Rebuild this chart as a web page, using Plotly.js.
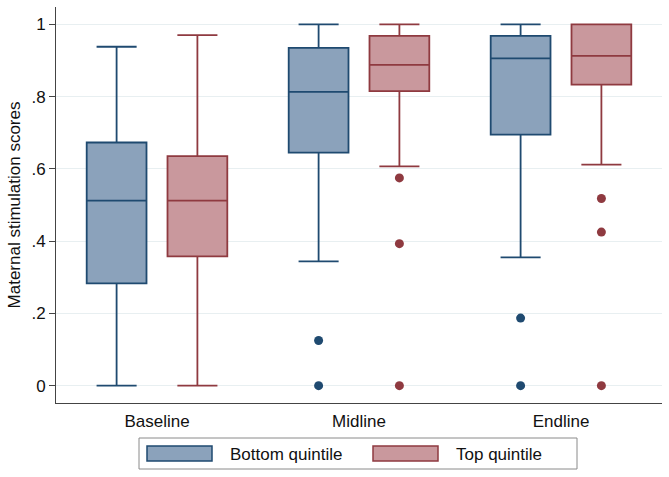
<!DOCTYPE html>
<html><head><meta charset="utf-8">
<script src="https://cdn.plot.ly/plotly-3.0.1.min.js"></script>
<style>html,body{margin:0;padding:0;background:#fff}</style>
</head><body><div id="chart" style="width:669px;height:477px"></div>
<script>
const categories = ['Baseline', 'Midline', 'Endline'];
const seriesNames = ['Bottom quintile', 'Top quintile'];

const bottomQ1 = [0.283, 0.645, 0.695];
const bottomMedian = [0.512, 0.813, 0.906];
const bottomQ3 = [0.673, 0.935, 0.968];
const bottomLower = [0.0, 0.344, 0.355];
const bottomUpper = [0.938, 1.0, 1.0];
const bottomOutliers = [[], [0.125, 0.0], [0.187, 0.0]];

const topQ1 = [0.358, 0.815, 0.833];
const topMedian = [0.512, 0.888, 0.913];
const topQ3 = [0.635, 0.968, 1.0];
const topLower = [0.0, 0.607, 0.612];
const topUpper = [0.97, 1.0, 1.0];
const topOutliers = [[], [0.575, 0.393, 0.0], [0.518, 0.425, 0.0]];

const yTickVals = [0, 0.2, 0.4, 0.6, 0.8, 1];
const yTickText = ['0', '.2', '.4', '.6', '.8', '1'];

const blueFill = '#8ba2bb', blueLine = '#1f4a70';
const redFill = '#c9989d', redLine = '#8f3a40';
const FONT = 'Liberation Sans, Arial, sans-serif';
const BOXGAP = 0.2, BOXGROUPGAP = 0.26;

function boxTrace(name, q1, med, q3, lo, up, fill, line) {
  return {
    type: 'box', name: name, x: categories,
    q1: q1, median: med, q3: q3, lowerfence: lo, upperfence: up,
    boxpoints: false,
    fillcolor: fill, line: {color: line, width: 1.8},
    whiskerwidth: 0.67,
    hoverinfo: 'skip', showlegend: false
  };
}

// outliers drawn on an overlaid linear axis aligned with the category slots
function outlierTrace(pts, groupIndex, color) {
  const shift = (groupIndex === 0 ? -1 : 1) * (1 - BOXGAP) / 4;
  const xs = [], ys = [];
  pts.forEach((arr, ci) => arr.forEach(v => { xs.push(ci + shift); ys.push(v); }));
  return {
    type: 'scatter', mode: 'markers', x: xs, y: ys, xaxis: 'x2',
    marker: {color: color, size: 9, line: {width: 0}},
    hoverinfo: 'skip', showlegend: false
  };
}

const data = [
  boxTrace(seriesNames[0], bottomQ1, bottomMedian, bottomQ3, bottomLower, bottomUpper, blueFill, blueLine),
  boxTrace(seriesNames[1], topQ1, topMedian, topQ3, topLower, topUpper, redFill, redLine),
  outlierTrace(bottomOutliers, 0, blueLine),
  outlierTrace(topOutliers, 1, redLine)
];

// plot-area pixel geometry for custom legend placement
const L = 56, R = 662, T = 7, B = 403;
const px = x => (x - L) / (R - L);
const py = y => (B - y) / (B - T);

const shapes = [
  {type: 'rect', xref: 'paper', yref: 'paper', x0: px(139), x1: px(577), y0: py(438), y1: py(469),
   line: {color: '#8a8a8a', width: 1}, fillcolor: '#fff'},
  {type: 'rect', xref: 'paper', yref: 'paper', x0: px(147), x1: px(212), y0: py(446), y1: py(461),
   line: {color: blueLine, width: 1.5}, fillcolor: blueFill},
  {type: 'rect', xref: 'paper', yref: 'paper', x0: px(373), x1: px(438), y0: py(446), y1: py(461),
   line: {color: redLine, width: 1.5}, fillcolor: redFill}
];
const annotations = [
  {xref: 'paper', yref: 'paper', x: px(228), y: py(454), text: seriesNames[0], showarrow: false,
   xanchor: 'left', yanchor: 'middle', font: {family: FONT, size: 17, color: '#111'}},
  {xref: 'paper', yref: 'paper', x: px(454), y: py(454), text: seriesNames[1], showarrow: false,
   xanchor: 'left', yanchor: 'middle', font: {family: FONT, size: 17, color: '#111'}}
];

const layout = {
  width: 669, height: 477,
  margin: {l: L, r: 669 - R, t: T, b: 477 - B},
  paper_bgcolor: '#fff', plot_bgcolor: '#fff',
  font: {family: FONT, size: 17, color: '#111'},
  boxmode: 'group', boxgap: BOXGAP, boxgroupgap: BOXGROUPGAP,
  showlegend: false,
  xaxis: {
    type: 'category', range: [-0.5, 2.5], showgrid: false, zeroline: false,
    showline: true, linecolor: '#444', linewidth: 1,
    ticks: 'outside', ticklen: 3, tickcolor: 'rgba(0,0,0,0)', tickfont: {size: 17}, fixedrange: true
  },
  xaxis2: {
    overlaying: 'x', type: 'linear', range: [-0.5, 2.5], visible: false, fixedrange: true
  },
  yaxis: {
    range: [-0.048, 1.048], tickvals: yTickVals, ticktext: yTickText,
    showgrid: true, gridcolor: '#e8eff1', gridwidth: 1, zeroline: false,
    showline: true, linecolor: '#444', linewidth: 1,
    ticks: 'outside', ticklen: 6, tickcolor: '#444', tickfont: {size: 17},
    title: {text: 'Maternal stimulation scores', font: {size: 17}, standoff: 6},
    automargin: false, fixedrange: true
  },
  shapes: shapes, annotations: annotations
};

Plotly.newPlot('chart', data, layout, {displayModeBar: false, staticPlot: true});
</script></body></html>
